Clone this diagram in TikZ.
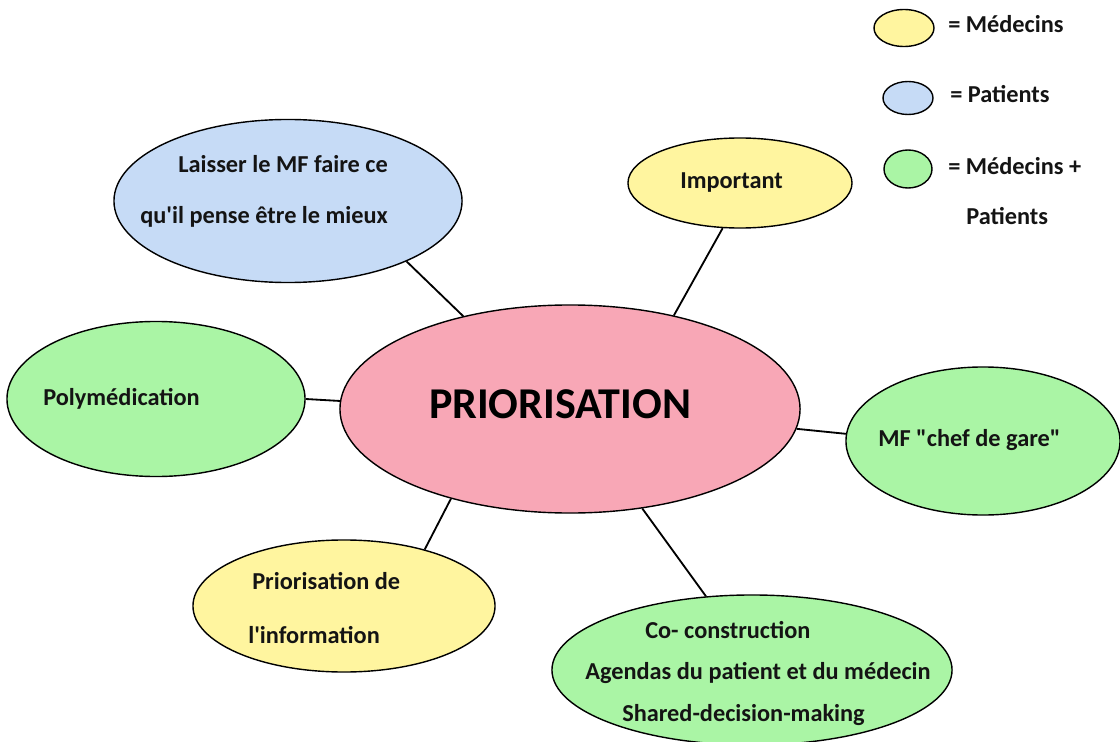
\documentclass[tikz,border=0pt]{standalone}
\usepackage{fontspec}
% plain (straight) quote marks
\setmainfont{Carlito}[Ligatures=TeXOff]
\usetikzlibrary{shapes.geometric}

\definecolor{fillyellow}{HTML}{FFF59F}
\definecolor{fillblue}{HTML}{C6DBF6}
\definecolor{fillgreen}{HTML}{AAF5A5}
\definecolor{fillpink}{HTML}{F8A7B6}
\definecolor{inkdark}{HTML}{141414}

\tikzset{
  bubble/.style={ellipse, draw=black, line width=1pt, inner sep=0pt},
  yellowbubble/.style={bubble, fill=fillyellow},
  bluebubble/.style={bubble, fill=fillblue},
  greenbubble/.style={bubble, fill=fillgreen},
  pinkbubble/.style={bubble, fill=fillpink},
  lbl/.style={anchor=base west, inner sep=0pt, text=inkdark,
    font=\fontsize{17.3}{20}\selectfont\bfseries},
  bigtitle/.style={anchor=base, inner sep=0pt, text=black,
    font=\fontsize{31.3}{36}\selectfont\bfseries},
  link/.style={draw=black, line width=1.3pt}
}

\begin{document}
\begin{tikzpicture}[x=0.025cm, y=-0.025cm]
  \useasboundingbox (0,0) rectangle (1120,742);
  \clip (0,0) rectangle (1120,742);

  % bubbles
  \node[pinkbubble,   minimum width=11.5cm,  minimum height=5.2cm]   (main)  at (570,409) {};
  \node[bluebubble,   minimum width=8.7cm,   minimum height=4.075cm] (laisser) at (288,201) {};
  \node[yellowbubble, minimum width=5.6cm,   minimum height=2.25cm]  (important) at (740,183) {};
  \node[greenbubble,  minimum width=7.45cm,  minimum height=3.875cm] (poly) at (156,399) {};
  \node[greenbubble,  minimum width=6.85cm,  minimum height=3.7cm]   (mf) at (983,441) {};
  \node[yellowbubble, minimum width=7.55cm,  minimum height=3.3cm]   (info) at (344,606) {};
  \node[greenbubble,  minimum width=10cm,    minimum height=3.75cm]  (co) at (752,670) {};

  % connectors
  \draw[link] (laisser.-27) -- (main.139);
  \draw[link] (important.-111) -- (main.42);
  \draw[link] (poly.east) -- (main.178);
  \draw[link] (main.-5) -- (mf.177);
  \draw[link] (info.35) -- (main.-143);
  \draw[link] (co.122) -- (main.-54);

  % texts
  \node[bigtitle] (tmain) at (560,418) {PRIORISATION};
  \node[lbl] (tl1) at (178,173) {Laisser le MF faire ce};
  \node[lbl] (tl2) at (140,223) {qu'il pense être le mieux};
  \node[lbl] (timp) at (680,189) {Important};
  \node[lbl] (tpoly) at (43,405) {Polymédication};
  \node[lbl] (tmf) at (878,446) {MF "chef de gare"};
  \node[lbl] (ti1) at (252,589) {Priorisation de};
  \node[lbl] (ti2) at (248,643) {l'information};
  \node[lbl] (tc1) at (645,638) {Co- construction};
  \node[lbl] (tc2) at (585,679) {Agendas du patient et du médecin};
  \node[lbl] (tc3) at (622,721) {Shared-decision-making};

  % legend
  \node[yellowbubble, minimum width=1.5cm,  minimum height=0.925cm] (keyyellow) at (904,28) {};
  \node[bluebubble,   minimum width=1.25cm, minimum height=0.825cm] (keyblue) at (908,98) {};
  \node[greenbubble,  minimum width=1.2cm,  minimum height=0.95cm]  (keygreen) at (908,169) {};
  \node[lbl] (k1) at (948,33) {= Médecins};
  \node[lbl] (k2) at (950,103) {= Patients};
  \node[lbl] (k3) at (948,174) {= Médecins +};
  \node[lbl] (k4) at (966,224) {Patients};
\end{tikzpicture}
\end{document}
